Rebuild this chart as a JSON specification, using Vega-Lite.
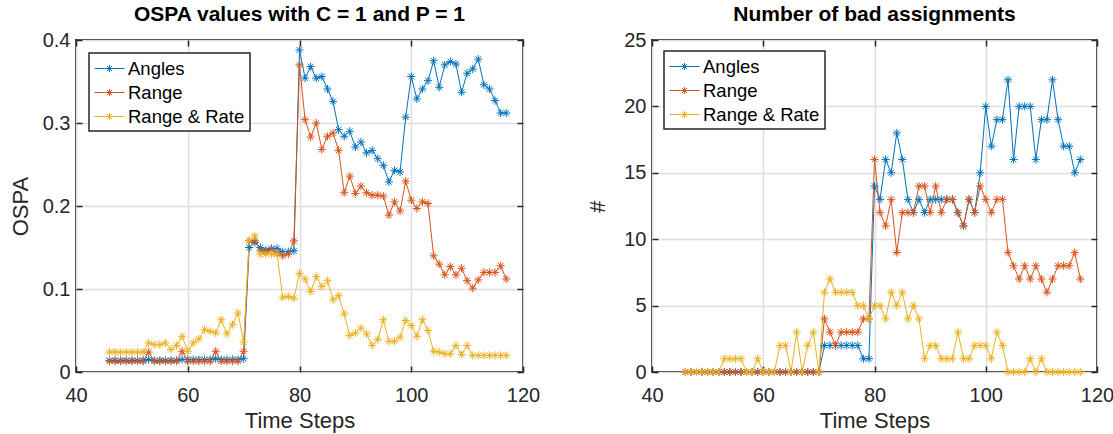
{
  "$schema": "https://vega.github.io/schema/vega-lite/v6.json",
  "background": "white",
  "padding": {"left": 8, "top": 3, "right": 10, "bottom": 3},
  "datasets": {
    "ospa": [
      {"t":46,"Angles":0.014,"Range":0.013,"Range & Rate":0.024},
      {"t":47,"Angles":0.014,"Range":0.013,"Range & Rate":0.024},
      {"t":48,"Angles":0.014,"Range":0.013,"Range & Rate":0.024},
      {"t":49,"Angles":0.014,"Range":0.013,"Range & Rate":0.024},
      {"t":50,"Angles":0.014,"Range":0.013,"Range & Rate":0.024},
      {"t":51,"Angles":0.014,"Range":0.013,"Range & Rate":0.024},
      {"t":52,"Angles":0.014,"Range":0.013,"Range & Rate":0.024},
      {"t":53,"Angles":0.015,"Range":0.024,"Range & Rate":0.035},
      {"t":54,"Angles":0.014,"Range":0.013,"Range & Rate":0.033},
      {"t":55,"Angles":0.014,"Range":0.013,"Range & Rate":0.033},
      {"t":56,"Angles":0.014,"Range":0.013,"Range & Rate":0.035},
      {"t":57,"Angles":0.014,"Range":0.013,"Range & Rate":0.027},
      {"t":58,"Angles":0.014,"Range":0.013,"Range & Rate":0.032},
      {"t":59,"Angles":0.015,"Range":0.025,"Range & Rate":0.043},
      {"t":60,"Angles":0.015,"Range":0.013,"Range & Rate":0.025},
      {"t":61,"Angles":0.015,"Range":0.013,"Range & Rate":0.035},
      {"t":62,"Angles":0.015,"Range":0.013,"Range & Rate":0.040},
      {"t":63,"Angles":0.015,"Range":0.013,"Range & Rate":0.051},
      {"t":64,"Angles":0.015,"Range":0.013,"Range & Rate":0.049},
      {"t":65,"Angles":0.016,"Range":0.025,"Range & Rate":0.047},
      {"t":66,"Angles":0.015,"Range":0.013,"Range & Rate":0.063},
      {"t":67,"Angles":0.015,"Range":0.013,"Range & Rate":0.046},
      {"t":68,"Angles":0.015,"Range":0.013,"Range & Rate":0.057},
      {"t":69,"Angles":0.015,"Range":0.013,"Range & Rate":0.071},
      {"t":70,"Angles":0.016,"Range":0.025,"Range & Rate":0.036},
      {"t":71,"Angles":0.150,"Range":0.158,"Range & Rate":0.158},
      {"t":72,"Angles":0.156,"Range":0.158,"Range & Rate":0.164},
      {"t":73,"Angles":0.150,"Range":0.146,"Range & Rate":0.142},
      {"t":74,"Angles":0.147,"Range":0.145,"Range & Rate":0.142},
      {"t":75,"Angles":0.149,"Range":0.147,"Range & Rate":0.142},
      {"t":76,"Angles":0.149,"Range":0.144,"Range & Rate":0.142},
      {"t":77,"Angles":0.145,"Range":0.140,"Range & Rate":0.090},
      {"t":78,"Angles":0.145,"Range":0.142,"Range & Rate":0.091},
      {"t":79,"Angles":0.146,"Range":0.158,"Range & Rate":0.089},
      {"t":80,"Angles":0.388,"Range":0.370,"Range & Rate":0.119},
      {"t":81,"Angles":0.354,"Range":0.304,"Range & Rate":0.112},
      {"t":82,"Angles":0.368,"Range":0.283,"Range & Rate":0.097},
      {"t":83,"Angles":0.354,"Range":0.300,"Range & Rate":0.115},
      {"t":84,"Angles":0.356,"Range":0.268,"Range & Rate":0.103},
      {"t":85,"Angles":0.341,"Range":0.284,"Range & Rate":0.110},
      {"t":86,"Angles":0.326,"Range":0.288,"Range & Rate":0.087},
      {"t":87,"Angles":0.292,"Range":0.267,"Range & Rate":0.092},
      {"t":88,"Angles":0.284,"Range":0.216,"Range & Rate":0.070},
      {"t":89,"Angles":0.290,"Range":0.236,"Range & Rate":0.044},
      {"t":90,"Angles":0.271,"Range":0.215,"Range & Rate":0.047},
      {"t":91,"Angles":0.277,"Range":0.224,"Range & Rate":0.053},
      {"t":92,"Angles":0.264,"Range":0.216,"Range & Rate":0.046},
      {"t":93,"Angles":0.267,"Range":0.213,"Range & Rate":0.032},
      {"t":94,"Angles":0.257,"Range":0.213,"Range & Rate":0.039},
      {"t":95,"Angles":0.249,"Range":0.212,"Range & Rate":0.063},
      {"t":96,"Angles":0.229,"Range":0.189,"Range & Rate":0.037},
      {"t":97,"Angles":0.243,"Range":0.205,"Range & Rate":0.037},
      {"t":98,"Angles":0.241,"Range":0.194,"Range & Rate":0.042},
      {"t":99,"Angles":0.307,"Range":0.230,"Range & Rate":0.062},
      {"t":100,"Angles":0.356,"Range":0.207,"Range & Rate":0.056},
      {"t":101,"Angles":0.329,"Range":0.197,"Range & Rate":0.043},
      {"t":102,"Angles":0.341,"Range":0.205,"Range & Rate":0.063},
      {"t":103,"Angles":0.351,"Range":0.203,"Range & Rate":0.050},
      {"t":104,"Angles":0.375,"Range":0.140,"Range & Rate":0.025},
      {"t":105,"Angles":0.343,"Range":0.130,"Range & Rate":0.024},
      {"t":106,"Angles":0.370,"Range":0.117,"Range & Rate":0.022},
      {"t":107,"Angles":0.374,"Range":0.127,"Range & Rate":0.022},
      {"t":108,"Angles":0.371,"Range":0.117,"Range & Rate":0.032},
      {"t":109,"Angles":0.337,"Range":0.125,"Range & Rate":0.021},
      {"t":110,"Angles":0.360,"Range":0.110,"Range & Rate":0.032},
      {"t":111,"Angles":0.365,"Range":0.101,"Range & Rate":0.020},
      {"t":112,"Angles":0.377,"Range":0.111,"Range & Rate":0.020},
      {"t":113,"Angles":0.346,"Range":0.120,"Range & Rate":0.020},
      {"t":114,"Angles":0.341,"Range":0.120,"Range & Rate":0.020},
      {"t":115,"Angles":0.327,"Range":0.120,"Range & Rate":0.020},
      {"t":116,"Angles":0.312,"Range":0.128,"Range & Rate":0.020},
      {"t":117,"Angles":0.312,"Range":0.112,"Range & Rate":0.020}
    ],
    "bad": [
      {"t":46,"Angles":0,"Range":0,"Range & Rate":0},
      {"t":47,"Angles":0,"Range":0,"Range & Rate":0},
      {"t":48,"Angles":0,"Range":0,"Range & Rate":0},
      {"t":49,"Angles":0,"Range":0,"Range & Rate":0},
      {"t":50,"Angles":0,"Range":0,"Range & Rate":0},
      {"t":51,"Angles":0,"Range":0,"Range & Rate":0},
      {"t":52,"Angles":0,"Range":0,"Range & Rate":0},
      {"t":53,"Angles":0,"Range":0,"Range & Rate":1},
      {"t":54,"Angles":0,"Range":0,"Range & Rate":1},
      {"t":55,"Angles":0,"Range":0,"Range & Rate":1},
      {"t":56,"Angles":0,"Range":0,"Range & Rate":1},
      {"t":57,"Angles":0,"Range":0,"Range & Rate":0},
      {"t":58,"Angles":0,"Range":0,"Range & Rate":0},
      {"t":59,"Angles":0,"Range":0,"Range & Rate":1},
      {"t":60,"Angles":0,"Range":0,"Range & Rate":0},
      {"t":61,"Angles":0,"Range":0,"Range & Rate":0},
      {"t":62,"Angles":0,"Range":0,"Range & Rate":0},
      {"t":63,"Angles":0,"Range":0,"Range & Rate":2},
      {"t":64,"Angles":0,"Range":0,"Range & Rate":2},
      {"t":65,"Angles":0,"Range":0,"Range & Rate":0},
      {"t":66,"Angles":0,"Range":0,"Range & Rate":3},
      {"t":67,"Angles":0,"Range":0,"Range & Rate":0},
      {"t":68,"Angles":0,"Range":0,"Range & Rate":2},
      {"t":69,"Angles":0,"Range":0,"Range & Rate":3},
      {"t":70,"Angles":0,"Range":0,"Range & Rate":0},
      {"t":71,"Angles":2,"Range":4,"Range & Rate":6},
      {"t":72,"Angles":2,"Range":3,"Range & Rate":7},
      {"t":73,"Angles":2,"Range":2,"Range & Rate":6},
      {"t":74,"Angles":2,"Range":3,"Range & Rate":6},
      {"t":75,"Angles":2,"Range":3,"Range & Rate":6},
      {"t":76,"Angles":2,"Range":3,"Range & Rate":6},
      {"t":77,"Angles":2,"Range":3,"Range & Rate":5},
      {"t":78,"Angles":1,"Range":4,"Range & Rate":5},
      {"t":79,"Angles":1,"Range":4,"Range & Rate":4},
      {"t":80,"Angles":14,"Range":16,"Range & Rate":5},
      {"t":81,"Angles":13,"Range":12,"Range & Rate":5},
      {"t":82,"Angles":16,"Range":11,"Range & Rate":4},
      {"t":83,"Angles":15,"Range":13,"Range & Rate":6},
      {"t":84,"Angles":18,"Range":9,"Range & Rate":5},
      {"t":85,"Angles":16,"Range":12,"Range & Rate":6},
      {"t":86,"Angles":13,"Range":12,"Range & Rate":4},
      {"t":87,"Angles":12,"Range":12,"Range & Rate":5},
      {"t":88,"Angles":13,"Range":14,"Range & Rate":4},
      {"t":89,"Angles":12,"Range":14,"Range & Rate":1},
      {"t":90,"Angles":13,"Range":12,"Range & Rate":2},
      {"t":91,"Angles":13,"Range":14,"Range & Rate":2},
      {"t":92,"Angles":13,"Range":12,"Range & Rate":1},
      {"t":93,"Angles":13,"Range":13,"Range & Rate":1},
      {"t":94,"Angles":13,"Range":13,"Range & Rate":1},
      {"t":95,"Angles":12,"Range":12,"Range & Rate":3},
      {"t":96,"Angles":11,"Range":11,"Range & Rate":1},
      {"t":97,"Angles":13,"Range":13,"Range & Rate":1},
      {"t":98,"Angles":12,"Range":12,"Range & Rate":2},
      {"t":99,"Angles":15,"Range":14,"Range & Rate":2},
      {"t":100,"Angles":20,"Range":13,"Range & Rate":2},
      {"t":101,"Angles":17,"Range":12,"Range & Rate":1},
      {"t":102,"Angles":19,"Range":13,"Range & Rate":3},
      {"t":103,"Angles":19,"Range":13,"Range & Rate":2},
      {"t":104,"Angles":22,"Range":9,"Range & Rate":0},
      {"t":105,"Angles":16,"Range":8,"Range & Rate":0},
      {"t":106,"Angles":20,"Range":7,"Range & Rate":0},
      {"t":107,"Angles":20,"Range":8,"Range & Rate":0},
      {"t":108,"Angles":20,"Range":7,"Range & Rate":1},
      {"t":109,"Angles":16,"Range":8,"Range & Rate":0},
      {"t":110,"Angles":19,"Range":7,"Range & Rate":1},
      {"t":111,"Angles":19,"Range":6,"Range & Rate":0},
      {"t":112,"Angles":22,"Range":7,"Range & Rate":0},
      {"t":113,"Angles":19,"Range":8,"Range & Rate":0},
      {"t":114,"Angles":17,"Range":8,"Range & Rate":0},
      {"t":115,"Angles":17,"Range":8,"Range & Rate":0},
      {"t":116,"Angles":15,"Range":9,"Range & Rate":0},
      {"t":117,"Angles":16,"Range":7,"Range & Rate":0}
    ]
  },
  "spacing": 129,
  "bounds": "flush",
  "resolve": {"scale": {"color": "independent"}, "legend": {"color": "independent"}},
  "hconcat": [
    {
      "width": 447,
      "height": 332,
      "title": "OSPA values with C = 1 and P = 1",
      "data": {"name": "ospa"},
      "transform": [{"fold": ["Angles", "Range", "Range & Rate"], "as": ["s", "v"]}],
      "resolve": {"axis": {"x": "independent", "y": "independent"}},
      "layer": [
        {
          "mark": {"type": "line", "strokeWidth": 1, "point": {"shape": "M-1,0L1,0M0,-1L0,1M-0.7,-0.7L0.7,0.7M-0.7,0.7L0.7,-0.7", "size": 66, "filled": false, "strokeWidth": 1}},
          "encoding": {
            "x": {"field": "t", "type": "quantitative", "scale": {"domain": [40, 120], "nice": false}, "axis": {"values": [40, 60, 80, 100, 120], "title": "Time Steps"}},
            "y": {"field": "v", "type": "quantitative", "scale": {"domain": [0, 0.4], "nice": false}, "axis": {"values": [0, 0.1, 0.2, 0.3, 0.4], "format": ".1~f", "title": "OSPA"}},
            "color": {"field": "s", "type": "nominal", "scale": {"domain": ["Angles", "Range", "Range & Rate"], "range": ["#0072BD", "#D95319", "#EDB120"]}, "legend": {"legendX": 13, "legendY": 13}}
          }
        },
        {
          "mark": {"type": "point", "opacity": 0},
          "encoding": {
            "x": {"field": "t", "type": "quantitative", "axis": {"orient": "top", "values": [40, 60, 80, 100, 120], "labels": false, "grid": false, "title": null}},
            "y": {"field": "v", "type": "quantitative", "axis": {"orient": "right", "values": [0, 0.1, 0.2, 0.3, 0.4], "labels": false, "grid": false, "title": null}}
          }
        }
      ]
    },
    {
      "width": 445,
      "height": 332,
      "title": "Number of bad assignments",
      "data": {"name": "bad"},
      "transform": [{"fold": ["Angles", "Range", "Range & Rate"], "as": ["s", "v"]}],
      "resolve": {"axis": {"x": "independent", "y": "independent"}},
      "layer": [
        {
          "mark": {"type": "line", "strokeWidth": 1, "point": {"shape": "M-1,0L1,0M0,-1L0,1M-0.7,-0.7L0.7,0.7M-0.7,0.7L0.7,-0.7", "size": 66, "filled": false, "strokeWidth": 1}},
          "encoding": {
            "x": {"field": "t", "type": "quantitative", "scale": {"domain": [40, 120], "nice": false}, "axis": {"values": [40, 60, 80, 100, 120], "title": "Time Steps"}},
            "y": {"field": "v", "type": "quantitative", "scale": {"domain": [0, 25], "nice": false}, "axis": {"values": [0, 5, 10, 15, 20, 25], "title": "#", "titlePadding": 14}},
            "color": {"field": "s", "type": "nominal", "scale": {"domain": ["Angles", "Range", "Range & Rate"], "range": ["#0072BD", "#D95319", "#EDB120"]}, "legend": {"legendX": 12, "legendY": 11}}
          }
        },
        {
          "mark": {"type": "point", "opacity": 0},
          "encoding": {
            "x": {"field": "t", "type": "quantitative", "axis": {"orient": "top", "values": [40, 60, 80, 100, 120], "labels": false, "grid": false, "title": null}},
            "y": {"field": "v", "type": "quantitative", "axis": {"orient": "right", "values": [0, 5, 10, 15, 20, 25], "labels": false, "grid": false, "title": null}}
          }
        }
      ]
    }
  ],
  "config": {
    "font": "Liberation Sans",
    "view": {"stroke": "#262626", "strokeWidth": 1.9},
    "title": {"font": "Liberation Sans", "fontSize": 21, "fontWeight": "bold", "color": "#000000", "anchor": "middle", "offset": 5},
    "axis": {
      "domain": false,
      "grid": true,
      "gridColor": "#dedede",
      "gridWidth": 1.5,
      "ticks": true,
      "tickSize": -6,
      "tickColor": "#262626",
      "tickWidth": 1.5,
      "labelFlush": false,
      "labelFont": "Liberation Sans",
      "labelFontSize": 20,
      "labelColor": "#262626",
      "titleFont": "Liberation Sans",
      "titleFontSize": 22,
      "titleFontWeight": "normal",
      "titleColor": "#262626"
    },
    "axisX": {"labelPadding": 19, "titlePadding": 5},
    "axisY": {"labelPadding": 12, "titlePadding": 10},
    "legend": {
      "orient": "none",
      "title": null,
      "strokeColor": "#262626",
      "strokeWidth": 1.5,
      "fillColor": "white",
      "padding": 5,
      "cornerRadius": 0,
      "labelFont": "Liberation Sans",
      "labelFontSize": 18.5,
      "labelColor": "#000000",
      "labelOffset": 13,
      "rowPadding": 4,
      "symbolType": "M-1,0L2,0M0.5,-0.35L0.5,0.35M0.25,-0.25L0.75,0.25M0.25,0.25L0.75,-0.25",
      "symbolSize": 400,
      "symbolStrokeWidth": 1,
      "symbolFillColor": "transparent"
    }
  }
}
